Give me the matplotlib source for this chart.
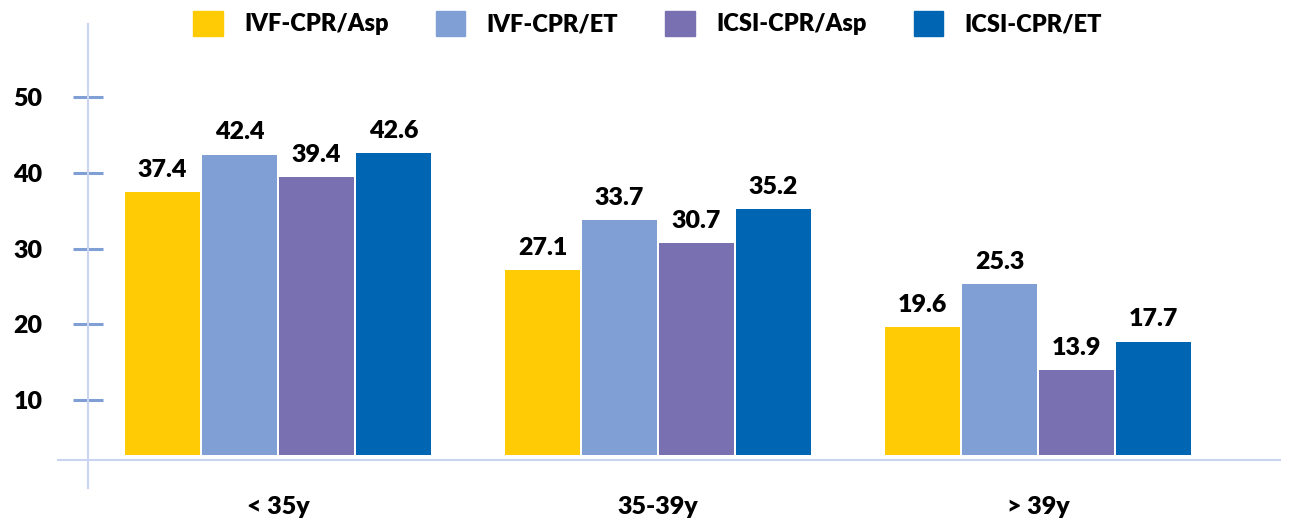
import numpy as np
import matplotlib.pyplot as plt
from matplotlib.patches import Patch

# Values (%)
groups = ['< 35y', '35-39y', '> 39y']
series = ['IVF-CPR/Asp', 'IVF-CPR/ET', 'ICSI-CPR/Asp', 'ICSI-CPR/ET']
ivf_asp = [37.4, 27.1, 19.6]
ivf_et = [42.4, 33.7, 25.3]
icsi_asp = [39.4, 30.7, 13.9]
icsi_et = [42.6, 35.2, 17.7]
yticks = [10, 20, 30, 40, 50]

colors = ['#FFCB05', '#809FD4', '#7970B1', '#0066B3']
values = [ivf_asp, ivf_et, icsi_asp, icsi_et]

plt.rcParams['font.family'] = ['Lato', 'DejaVu Sans']
WEIGHT = 'heavy'

W, H = 1295, 524
fig = plt.figure(figsize=(W / 100, H / 100), dpi=100)
ax = fig.add_axes([88 / W, (H - 488) / H, 1192 / W, 464 / H])

x = np.arange(len(groups))
width = 0.195
step = 0.2026
base = 2.74  # bars start just above the baseline, as in the original

for i, (name, vals, c) in enumerate(zip(series, values, colors)):
    pos = x + (i - 1.5) * step
    vals = np.array(vals)
    ax.bar(pos, vals - base, width, bottom=base, color=c, label=name)
    for xp, v in zip(pos, vals):
        ax.annotate(f'{v:.1f}', (xp, v), xytext=(0, 11), textcoords='offset points',
                    ha='center', va='baseline', fontsize=18, fontweight=WEIGHT)

ax.set_xlim(-0.5, -0.5 + 1192 / 380)
ax.set_ylim(-1.62, 59.64)

# axis styling
for s in ['top', 'right', 'bottom']:
    ax.spines[s].set_visible(False)
ax.spines['left'].set_color('#C9D4F0')
ax.spines['left'].set_linewidth(1.5)
ax.axhline(2.08, xmin=-30 / 1192, xmax=1, color='#C9D4F0', lw=1.5, clip_on=False)

ax.set_yticks(yticks)
ax.set_yticklabels([str(t) for t in yticks], fontsize=18, fontweight=WEIGHT)
ax.tick_params(axis='y', direction='inout', length=21.6, width=2.2, color='#809FD4', pad=22)

ax.set_xticks(x)
ax.set_xticklabels(groups, fontsize=18, fontweight=WEIGHT)
ax.tick_params(axis='x', length=0, pad=6)

handles = [Patch(color=c) for c in colors]
fig.legend(handles, series, loc='upper center', bbox_to_anchor=(0.5, 1.02), ncol=4,
           frameon=False, prop={'size': 17, 'weight': WEIGHT},
           handlelength=1.25, handleheight=1.25, handletextpad=0.9, columnspacing=2.0)

fig.savefig('out.png', dpi=100)
